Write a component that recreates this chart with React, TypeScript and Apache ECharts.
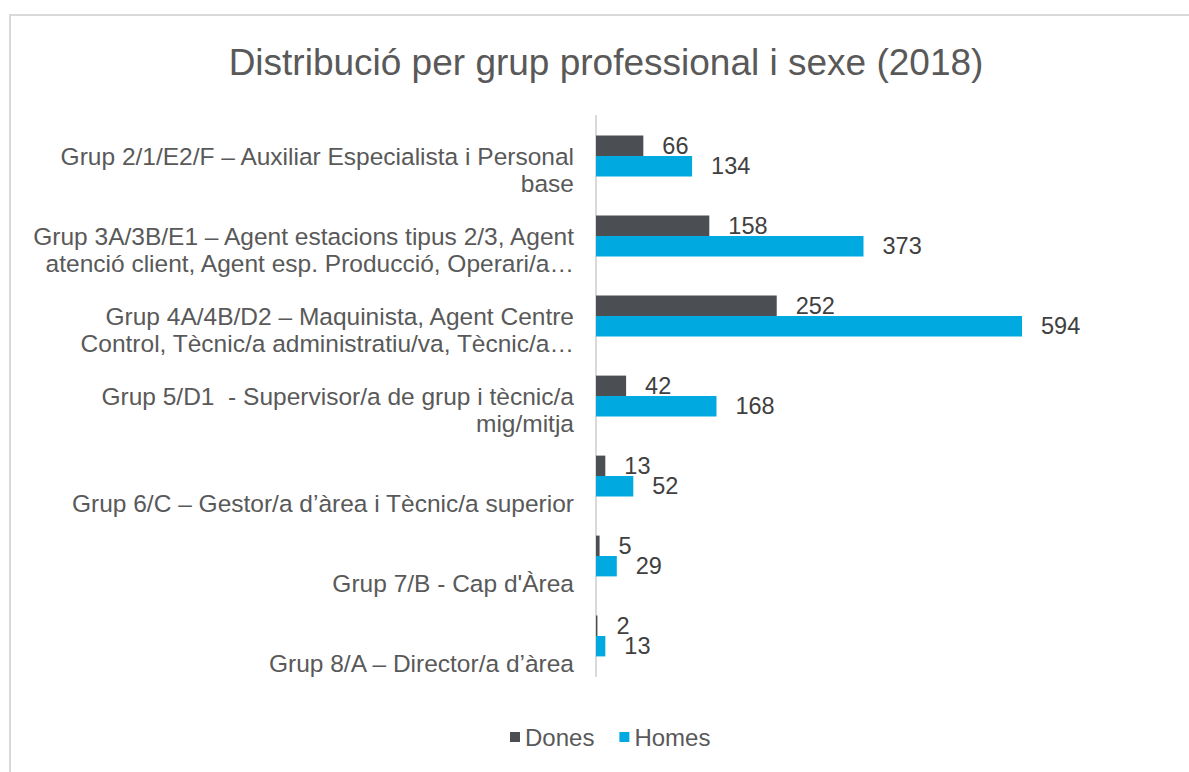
import React, { useEffect, useRef } from "react";
import * as echarts from "echarts";

const categories = [
  "Grup 2/1/E2/F – Auxiliar Especialista i Personal\nbase",
  "Grup 3A/3B/E1 – Agent estacions tipus 2/3, Agent\natenció client, Agent esp. Producció, Operari/a…",
  "Grup 4A/4B/D2 – Maquinista, Agent Centre\nControl, Tècnic/a administratiu/va, Tècnic/a…",
  "Grup 5/D1  - Supervisor/a de grup i tècnic/a\nmig/mitja",
  "Grup 6/C – Gestor/a d’àrea i Tècnic/a superior",
  "Grup 7/B - Cap d'Àrea",
  "Grup 8/A – Director/a d’àrea",
];
const dones = [66, 158, 252, 42, 13, 5, 2];
const homes = [134, 373, 594, 168, 52, 29, 13];
const seriesNames = ["Dones", "Homes"];
const titleText = "Distribució per grup professional i sexe (2018)";

const FONT = "'Liberation Sans', Arial, sans-serif";

export default function App() {
  const ref = useRef<HTMLDivElement>(null);
  useEffect(() => {
    if (!ref.current) return;
    const chart = echarts.init(ref.current, null, { renderer: "svg" });
    const labelStyle = {
      show: true,
      position: "right" as const,
      distance: 19,
      color: "#404040",
      fontSize: 23.5,
      fontFamily: FONT,
    };
    chart.setOption({
      animation: false,
      backgroundColor: "#ffffff",
      title: {
        text: titleText,
        left: 601,
        textAlign: "center",
        top: 39,
        textStyle: { color: "#595959", fontSize: 37, fontWeight: "normal", fontFamily: FONT },
      },
      graphic: [
        {
          type: "rect",
          shape: { x: 10, y: 15, width: 1300, height: 900 },
          style: { fill: "none", stroke: "#d9d9d9", lineWidth: 2 },
          silent: true,
        },
      ],
      legend: {
        data: seriesNames,
        bottom: 18,
        left: 505,
        itemWidth: 10,
        itemHeight: 10,
        itemGap: 25,
        icon: "rect",
        textStyle: { color: "#595959", fontSize: 24, fontFamily: FONT },
      },
      grid: { left: 596, right: 162.7, top: 116, bottom: 96, containLabel: false },
      xAxis: {
        type: "value",
        min: 0,
        max: 600,
        show: false,
      },
      yAxis: {
        type: "category",
        data: categories,
        inverse: true,
        axisLine: { show: true, lineStyle: { color: "#d9d9d9", width: 2 } },
        axisTick: { show: false },
        axisLabel: {
          interval: 0,
          showMinLabel: true,
          showMaxLabel: true,
          hideOverlap: false,
          margin: 22,
          color: "#595959",
          fontSize: 24.5,
          fontFamily: FONT,
          lineHeight: 27,
          align: "right",
          verticalAlign: "middle",
          formatter: (v: string) => {
            const n = v.split("\n").length;
            return "\n".repeat(3 - n) + v;
          },
        },
      },
      series: [
        {
          name: seriesNames[0],
          type: "bar",
          data: dones,
          itemStyle: { color: "#4b4f54" },
          barGap: "0%",
          barCategoryGap: "49%",
          label: labelStyle,
        },
        {
          name: seriesNames[1],
          type: "bar",
          data: homes,
          itemStyle: { color: "#00a9e0" },
          barGap: "0%",
          barCategoryGap: "49%",
          label: labelStyle,
        },
      ],
    });
    return () => chart.dispose();
  }, []);
  return (
    <div
      ref={ref}
      style={{ position: "fixed", left: 0, top: 0, width: 1189, height: 772, background: "#fff" }}
    />
  );
}
